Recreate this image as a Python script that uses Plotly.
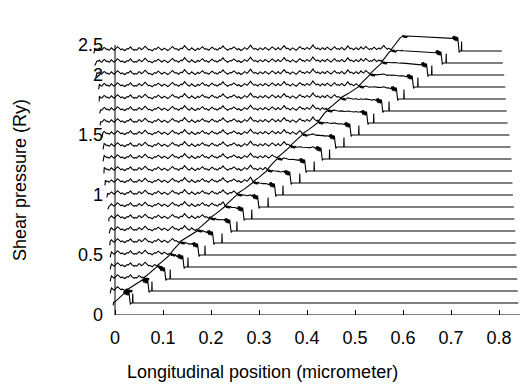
import numpy as np
import plotly.graph_objects as go

# ---- data ----
base_levels = [0.1, 0.2, 0.3, 0.4, 0.5, 0.6, 0.7, 0.8, 0.9, 1.0, 1.1,
               1.2, 1.3, 1.4, 1.5, 1.6, 1.7, 1.8, 1.9, 2.0, 2.1, 2.2]
start_x = [-0.004, -0.010, -0.010, -0.010, -0.010, -0.011, -0.012, -0.013,
           -0.015, -0.017, -0.021, -0.023, -0.025, -0.025, -0.027, -0.031,
           -0.032, -0.033, -0.034, -0.040, -0.042, -0.044]
rise_top_x = [0.025, 0.060, 0.0875, 0.115, 0.135, 0.171, 0.198, 0.229, 0.254,
              0.2875, 0.317, 0.3375, 0.365, 0.390, 0.423, 0.442, 0.470, 0.508,
              0.531, 0.556, 0.575, 0.598]
rise_height = [0.10, 0.10, 0.10, 0.10, 0.10, 0.10, 0.10, 0.10, 0.10, 0.10, 0.10,
               0.10, 0.10, 0.10, 0.10, 0.10, 0.10, 0.10, 0.10, 0.10, 0.10, 0.12]
drop_x = [0.030, 0.069, 0.104, 0.142, 0.173, 0.204, 0.240, 0.267, 0.298, 0.333,
          0.365, 0.396, 0.430, 0.458, 0.490, 0.525, 0.556, 0.587, 0.620, 0.650,
          0.680, 0.715]
spike_x = [0.037, 0.077, 0.115, 0.152, 0.1875, 0.223, 0.254, 0.285, 0.319, 0.350,
           0.385, 0.415, 0.447, 0.477, 0.508, 0.539, 0.571, 0.602, 0.631, 0.660,
           0.690, 0.722]
end_x = [0.840, 0.839, 0.838, 0.837, 0.836, 0.835, 0.834, 0.832, 0.831, 0.829,
         0.828, 0.827, 0.826, 0.824, 0.822, 0.818, 0.816, 0.814, 0.813, 0.811,
         0.808, 0.806]
# shared fluctuation profile (units of 2e-3 Ry), sampled every 0.0025 from -0.05 to 0.60
noise = [
    -12, -6, 2, 6, 3, 9, 7, 12, 5, 4, 10, 15, 11, 6, 8, 3, 7, 13, 9, 4,
    6, 11, 18, 14, 8, 5, 9, 6, 2, 5, 10, 8, 12, 17, 10, 7, 3, 6, 4, 9,
    14, 11, 6, 8, 13, 20, 15, 9, 5, 7, 3, 1, 6, 10, 7, 11, 16, 12, 8, 4,
    7, 12, 9, 5, 2, 6, 11, 14, 19, 13, 8, 10, 6, 3, 8, 12, 9, 15, 22, 16,
    10, 6, 4, 9, 13, 8, 5, 2, 7, 11, 6, 9, 14, 18, 12, 7, 10, 5, 3, 8,
    12, 16, 11, 7, 9, 4, 6, 13, 10, 15, 21, 14, 9, 6, 3, 7, 11, 8, 12, 17,
    13, 8, 5, 10, 6, 2, 5, 9, 14, 11, 7, 12, 19, 24, 16, 10, 7, 11, 8, 4,
    9, 13, 10, 6, 8, 15, 12, 7, 4, 8, 11, 17, 13, 9, 5, 10, 14, 8, 6, 11,
    16, 22, 15, 9, 12, 7, 4, 9, 13, 10, 6, 3, 8, 12, 18, 14, 9, 11, 6, 10,
    15, 11, 7, 12, 20, 25, 17, 11, 8, 13, 9, 5, 10, 14, 9, 6, 12, 16, 11, 7,
    4, 9, 13, 18, 12, 8, 10, 6, 11, 15, 10, 5, 8, 13, 21, 15, 9, 12, 8, 5,
    10, 14, 9, 6, 11, 17, 12, 8, 13, 19, 14, 9, 6, 10, 7, 12, 16, 11, 6, 9,
    13, 8, 11, 18, 23, 16, 10, 7, 12, 9, 5, 10, 15, 11, 8, 13, 10, 6, 9, 14,
    11]
noise_unit = 0.002
# jitter pattern of the dark zones (offset x, offset y)
blob_dx = [-0.012, -0.010, -0.009, -0.007, -0.006, -0.004, -0.003, -0.001]
blob_dy = [0.000, 0.020, -0.015, 0.022, -0.020, 0.015, -0.022, 0.010]
spike_height = 0.08

x_ticks = [0, 0.1, 0.2, 0.3, 0.4, 0.5, 0.6, 0.7, 0.8]
x_tick_text = ["0", "0.1", "0.2", "0.3", "0.4", "0.5", "0.6", "0.7", "0.8"]
y_ticks = [0, 0.5, 1, 1.5, 2, 2.25]
y_tick_text = ["0", "0.5", "1", "1.5", "2", "2.5"]

noise_x = np.linspace(-0.05, 0.60, len(noise))
noise_y = np.array(noise) * noise_unit

fig = go.Figure()
for k, base in enumerate(base_levels):
    xs, ys = [start_x[k]], [base - 0.02]
    r0 = rise_top_x[k - 1] if k > 0 else 0.0
    r1 = rise_top_x[k]
    h = rise_height[k]
    for nx, ny in zip(noise_x, noise_y):
        if start_x[k] < nx < r0:
            xs.append(nx); ys.append(base + ny)
    xs.append(r0); ys.append(base + 0.01)
    xs.append(0.5 * (r0 + r1) - 0.003); ys.append(base + 0.45 * h)
    xs.append(r1 - 0.004); ys.append(base + h - 0.01)
    # tangle at the top of the rise
    for dx, dy in zip(blob_dx, blob_dy):
        xs.append(r1 + 0.012 + dx); ys.append(base + h + 0.5 * dy)
    d0 = drop_x[k] + blob_dx[0]
    for nx, ny in zip(noise_x, noise_y):
        if r1 + 0.012 < nx < d0:
            frac = (nx - r1) / max(d0 - r1, 1e-6)
            xs.append(nx); ys.append(base + h - 0.015 * frac + 0.3 * ny)
    plat_end = base + h - 0.015
    for dx, dy in zip(blob_dx, blob_dy):
        xs.append(drop_x[k] + dx); ys.append(plat_end + dy)
    xs += [drop_x[k], drop_x[k] + 0.002, drop_x[k] + 0.004,
           spike_x[k] - 0.0005, spike_x[k], spike_x[k] + 0.0005, end_x[k]]
    ys += [plat_end - 0.03, base - 0.012, base,
           base, base + spike_height, base, base]
    fig.add_trace(go.Scatter(x=xs, y=ys, mode="lines",
                             line=dict(color="black", width=1.1),
                             showlegend=False, hoverinfo="skip"))

x_lo, x_hi = -0.05, 0.84375
y_top = 2.375
y_axis_pos = (0 - x_lo) / (x_hi - x_lo)

fig.update_layout(
    width=520, height=389,
    margin=dict(l=91, r=0, t=30, b=74),
    paper_bgcolor="white", plot_bgcolor="white",
    font=dict(family="Liberation Sans, Arial, sans-serif", size=18, color="black"),
    xaxis=dict(range=[x_lo, x_hi], showgrid=False, zeroline=False, showline=False,
               tickvals=x_ticks, ticktext=x_tick_text, ticks="inside",
               ticklen=5, tickcolor="black", tickwidth=1, ticklabelstandoff=10),
    yaxis=dict(range=[0, y_top], showgrid=False, zeroline=False, showline=False,
               anchor="free", position=y_axis_pos,
               tickvals=y_ticks, ticktext=y_tick_text, ticks="",
               ticklabelstandoff=12),
    shapes=[dict(type="line", xref="x", yref="y", x0=0, x1=x_hi, y0=0, y1=0,
                 line=dict(color="black", width=1)),
            dict(type="line", xref="x", yref="y", x0=0, x1=0, y0=0, y1=2.25,
                 line=dict(color="black", width=1))],
    annotations=[
        dict(text="Longitudinal position (micrometer)", xref="x", yref="paper",
             x=0.308, y=-57 / 285, xanchor="center", yanchor="middle",
             showarrow=False, font=dict(size=18)),
        dict(text="Shear pressure (Ry)", xref="paper", yref="paper",
             x=(20 - 91) / 429, y=(315 - 180) / 285, xanchor="center",
             yanchor="middle", textangle=-90, showarrow=False,
             font=dict(size=18)),
    ],
)

fig.write_html("out.html")
